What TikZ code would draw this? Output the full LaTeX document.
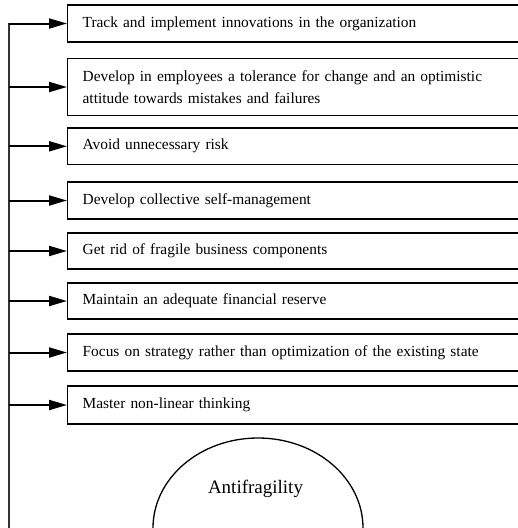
\documentclass[tikz,border=0pt]{standalone}
\usepackage{fontspec}
\setmainfont{Liberation Serif}
\usetikzlibrary{arrows.meta,shapes.geometric}

\tikzset{
  stepbox/.style={draw, line width=1.3pt, rectangle, anchor=west,
    minimum width=470pt, inner xsep=12pt, inner ysep=0pt,
    text width=440pt, align=left,
    font=\fontsize{15.4}{22}\selectfont},
  feed/.style={line width=2pt, -{Triangle[length=18pt,width=10pt]}},
  spine/.style={line width=1.3pt, draw=black!80},
  core/.style={draw, line width=1.3pt, ellipse, inner sep=0pt,
    minimum width=210pt, minimum height=180pt},
  coretext/.style={font=\fontsize{19}{23}\selectfont, anchor=base}
}

\begin{document}
\begin{tikzpicture}[x=1pt,y=-1pt]
  \useasboundingbox (0,0) rectangle (518,528);
  \clip (0,0) rectangle (518,528);

  % list of practices, one box each
  \node[stepbox, minimum height=37pt] (b1) at (67,23.5)
    {Track and implement innovations in the organization};
  \node[stepbox, minimum height=57pt] (b2) at (67,87)
    {Develop in employees a tolerance for change and an optimistic\\attitude towards mistakes and failures};
  \node[stepbox, minimum height=36.5pt] (b3) at (67,146.3)
    {Avoid unnecessary risk};
  \node[stepbox, minimum height=37pt] (b4) at (67,200.5)
    {Develop collective self-management};
  \node[stepbox, minimum height=36pt] (b5) at (67,251)
    {Get rid of fragile business components};
  \node[stepbox, minimum height=36pt] (b6) at (67,301)
    {Maintain an adequate financial reserve};
  \node[stepbox, minimum height=37pt] (b7) at (67,352.5)
    {Focus on strategy rather than optimization of the existing state};
  \node[stepbox, minimum height=38pt] (b8) at (67,405)
    {Master non-linear thinking};

  % central concept at the bottom
  \node[core] (af) at (258,528) {};
  \node[coretext] (aflabel) at (255.5,493) {Antifragility};

  % vertical feed line with an arrow into each box
  \coordinate (spinetop) at (9,23);
  \coordinate (spinebot) at (9,528);
  \draw[spine] (spinetop) -- (spinebot);
  \foreach \b in {b1,b2,b3,b4,b5,b6,b7,b8}
    \draw[feed] (spinetop |- \b.west) -- (\b.west);
\end{tikzpicture}
\end{document}
